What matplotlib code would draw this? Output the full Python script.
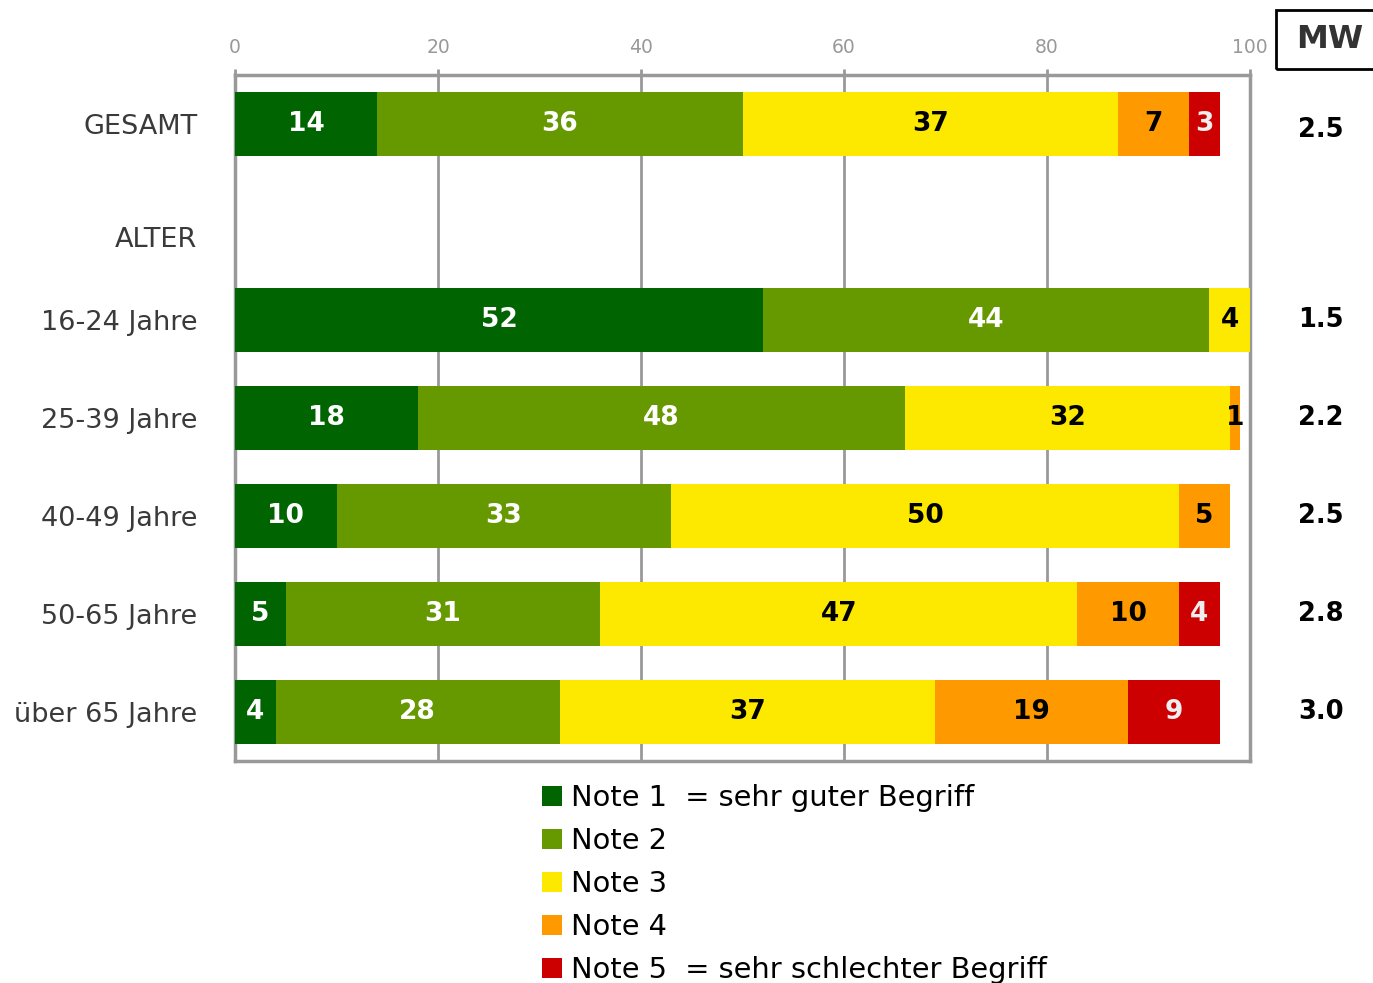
import matplotlib.pyplot as plt
from matplotlib.patches import Patch, Rectangle
from matplotlib import transforms

plt.rcParams['font.family'] = ['DejaVu Sans']

categories = ['GESAMT', '16-24 Jahre', '25-39 Jahre', '40-49 Jahre', '50-65 Jahre', 'über 65 Jahre']
group_label = 'ALTER'
note1 = [14, 52, 18, 10, 5, 4]
note2 = [36, 44, 48, 33, 31, 28]
note3 = [37, 4, 32, 50, 47, 37]
note4 = [7, 0, 1, 5, 10, 19]
note5 = [3, 0, 0, 0, 4, 9]
mw = ['2.5', '1.5', '2.2', '2.5', '2.8', '3.0']
series_names = ['Note 1  = sehr guter Begriff', 'Note 2', 'Note 3', 'Note 4',
                'Note 5  = sehr schlechter Begriff']
xticks = [0, 20, 40, 60, 80, 100]

colors = ['#006400', '#669900', '#fde900', '#ff9900', '#cc0000']
text_colors = ['white', 'white', 'black', 'black', '#eeeeee']

# row slots (GESAMT, gap for ALTER, then age groups)
rows = [0, 2, 3, 4, 5, 6]
alter_row = 1.18

fig = plt.figure(figsize=(13.73, 9.83), dpi=100)
ax = fig.add_axes([235 / 1373, 1 - 761 / 983, 1015 / 1373, 686 / 983])

series = [note1, note2, note3, note4, note5]
left = [0] * len(categories)
for vals, col, tcol, name in zip(series, colors, text_colors, series_names):
    ax.barh(rows, vals, left=left, height=0.66, color=col, label=name, zorder=3)
    for r, l, v in zip(rows, left, vals):
        if v > 0:
            ax.text(l + v / 2, r, str(v), ha='center', va='center', color=tcol,
                    fontsize=19, fontweight='bold', zorder=4)
    left = [a + b for a, b in zip(left, vals)]

ax.set_xlim(0, 100)
ax.set_ylim(6.5, -0.5)
ax.xaxis.tick_top()
ax.set_xticks(xticks)
ax.tick_params(axis='x', colors='#999999', labelsize=13.5, length=4, width=2, pad=9)
ax.set_yticks(rows)
ax.set_yticklabels(categories)
ax.tick_params(axis='y', length=0, labelsize=19.5, labelcolor='#3a3a3a', pad=27)
ax.grid(axis='x', color='#999999', linewidth=2, zorder=0)
for s in ax.spines.values():
    s.set_color('#999999')
    s.set_linewidth(2.5)

ax.text(-0.037, alter_row, group_label, transform=transforms.blended_transform_factory(ax.transAxes, ax.transData),
        ha='right', va='center', fontsize=19.5, color='#3a3a3a')

# MW column
trans = transforms.blended_transform_factory(fig.transFigure, ax.transData)
for r, m in zip(rows, mw):
    dy = 0.06 if r == 0 else 0.0
    ax.text(1321 / 1373, r + dy, m, transform=trans, ha='center', va='center',
            fontsize=18.5, fontweight='bold', color='black', clip_on=False)

fig.patches.append(Rectangle((1276 / 1373, 1 - 69 / 983), 0.1, 59 / 983, transform=fig.transFigure,
                             fill=False, edgecolor='black', linewidth=2))
fig.text(1330 / 1373, 1 - 40 / 983, 'MW', ha='center', va='center', fontsize=23,
         fontweight='bold', color='#333333')

handles = [Patch(facecolor=c, edgecolor='none') for c in colors]
fig.legend(handles, series_names, loc='upper left', bbox_to_anchor=(542 / 1373, 1 - 784 / 983),
           frameon=False, fontsize=20.8, handlelength=0.7, handleheight=0.7,
           handletextpad=0.32, labelspacing=0.52, borderpad=0, borderaxespad=0)

fig.savefig('out.png', dpi=100)
